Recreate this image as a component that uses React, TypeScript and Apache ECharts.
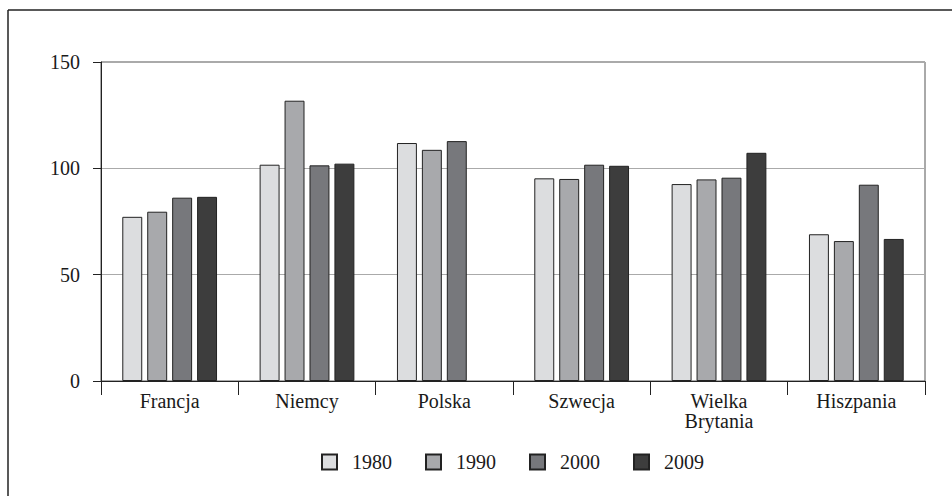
import React, { useEffect, useRef } from "react";
import * as echarts from "echarts";

const categories = ["Francja", "Niemcy", "Polska", "Szwecja", "Wielka\nBrytania", "Hiszpania"];
const seriesNames = ["1980", "1990", "2000", "2009"];
const values1980 = [77.2, 101.7, 111.9, 95.3, 92.6, 69.0];
const values1990 = [79.6, 131.8, 108.7, 95.0, 94.8, 65.8];
const values2000 = [86.2, 101.4, 112.8, 101.7, 95.6, 92.3];
const values2009: (number | null)[] = [86.6, 102.2, null, 101.2, 107.3, 66.8];
const yTicks = { min: 0, max: 150, interval: 50 };

const colors = ["#dcdddf", "#a8a9ac", "#77787c", "#3d3d3d"];
const font = "Liberation Serif";

export default function App() {
  const ref = useRef<HTMLDivElement>(null);
  useEffect(() => {
    if (!ref.current) return;
    const chart = echarts.init(ref.current, null, { renderer: "svg" });
    const data = [values1980, values1990, values2000, values2009];
    chart.setOption({
      animation: false,
      backgroundColor: "#fff",
      textStyle: { fontFamily: font },
      grid: {
        left: 101,
        right: 27,
        top: 62,
        bottom: 115,
        show: true,
        borderColor: "#555",
        borderWidth: 1,
        backgroundColor: "transparent",
      },
      legend: {
        left: 316,
        top: 447,
        padding: 5,
        itemWidth: 15,
        itemHeight: 15,
        itemGap: 33,
        icon: "rect",
        data: seriesNames,
        textStyle: {
          fontFamily: font,
          fontSize: 20,
          color: "#1a1a1a",
          padding: [0, 0, 0, 10],
        },
      },
      xAxis: {
        type: "category",
        data: categories,
        axisLine: { show: true, lineStyle: { color: "#222", width: 1 } },
        axisTick: { show: true, length: 14, lineStyle: { color: "#222", width: 1 } },
        axisLabel: {
          fontFamily: font,
          fontSize: 20,
          color: "#1a1a1a",
          margin: 10,
          lineHeight: 20,
        },
        splitLine: { show: false },
      },
      yAxis: {
        type: "value",
        min: yTicks.min,
        max: yTicks.max,
        interval: yTicks.interval,
        axisLine: { show: true, lineStyle: { color: "#222", width: 1 } },
        axisTick: { show: true, length: 8, lineStyle: { color: "#222", width: 1 } },
        axisLabel: {
          fontFamily: font,
          fontSize: 20,
          color: "#1a1a1a",
          margin: 21,
        },
        splitLine: { show: true, lineStyle: { color: "#aaa", width: 1 } },
      },
      series: seriesNames.map((name, i) => ({
        name,
        type: "bar",
        data: data[i],
        barGap: "25%",
        barCategoryGap: "31%",
        itemStyle: { color: colors[i], borderColor: "#222", borderWidth: 1 },
      })),
      graphic: [
        { type: "line", shape: { x1: 8, y1: 10, x2: 952, y2: 10 }, style: { stroke: "#222", lineWidth: 1.5 } },
        { type: "line", shape: { x1: 8, y1: 10, x2: 8, y2: 496 }, style: { stroke: "#222", lineWidth: 1.5 } },
      ],
    });
    return () => chart.dispose();
  }, []);
  return (
    <div
      ref={ref}
      style={{ position: "fixed", left: 0, top: 0, width: 952, height: 496 }}
    />
  );
}
